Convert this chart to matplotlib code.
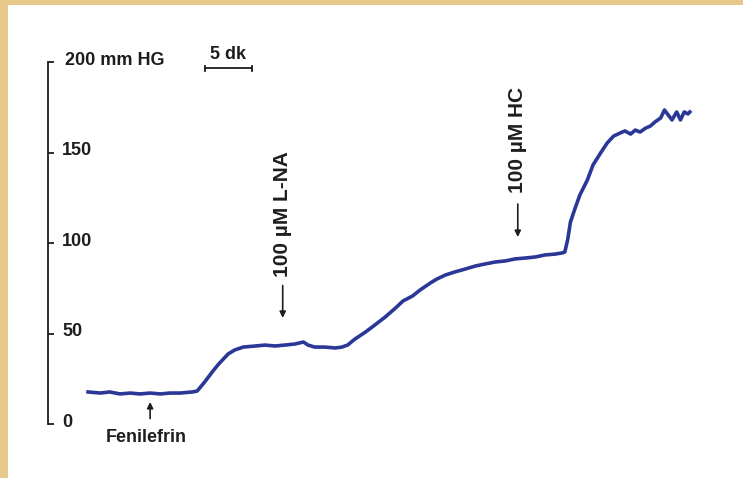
import matplotlib.pyplot as plt
from matplotlib.patches import Rectangle

# trace: time [min] and pressure [mm Hg]
time_min = [0.0, 1.3, 2.3, 3.4, 4.5, 5.5, 6.6, 7.7, 8.7, 9.8, 11.1, 11.6,
            12.4, 13.2, 13.8, 14.3, 14.9, 15.6, 16.5, 17.8, 18.8, 19.9, 20.9,
            22.0, 22.9, 23.4, 24.1, 25.2, 26.3, 27.0, 27.6, 28.4, 29.5, 30.5,
            31.6, 32.7, 33.5, 34.5, 35.3, 36.4, 37.1, 38.0, 39.0, 40.1, 41.2,
            42.2, 43.3, 44.4, 45.4, 46.5, 47.6, 48.6, 49.7, 50.4, 50.7, 51.0,
            51.3, 51.8, 52.3, 53.1, 53.7, 54.5, 55.2, 55.9, 56.6, 57.1, 57.7,
            58.2, 58.7, 59.3, 59.8, 60.3, 60.9, 61.3, 61.7, 62.1, 62.6, 63.0,
            63.4, 63.8, 64.0]
pressure = [17.7, 17.1, 17.7, 16.6, 17.1, 16.6, 17.1, 16.6, 17.1, 17.1, 17.7,
            18.2, 23.2, 28.7, 32.6, 35.4, 38.7, 40.9, 42.5, 43.1, 43.6, 43.1,
            43.6, 44.2, 45.3, 43.6, 42.5, 42.5, 42.0, 42.5, 43.6, 47.0, 50.8,
            54.7, 59.1, 64.1, 68.0, 70.7, 74.0, 77.9, 80.1, 82.3, 84.0, 85.6,
            87.3, 88.4, 89.5, 90.1, 91.2, 91.7, 92.3, 93.4, 93.9, 94.5, 95.0,
            101.7, 111.6, 119.3, 126.5, 134.8, 143.1, 149.7, 155.2, 159.1,
            160.8, 161.9, 160.2, 162.4, 161.3, 163.5, 164.6, 166.9, 169.1,
            173.5, 170.7, 168.0, 172.4, 168.0, 172.4, 171.3, 172.4]

y_ticks = [0, 50, 100, 150, 200]
y_tick_labels = ["0", "50", "100", "150", "200 mm HG"]

trace_color = "#2b3796"
text_color = "#1e1e1e"

W, H = 743, 478
fig = plt.figure(figsize=(W / 100, H / 100), dpi=100)
fig.patch.set_facecolor("#e7c98c")
fig.patches.append(Rectangle((8 / W, 0), 1, (H - 5) / H, transform=fig.transFigure,
                             facecolor="white", edgecolor="none", zorder=-10))

ax = fig.add_axes([48 / W, (H - 424) / H, (735 - 48) / W, (424 - 62) / H])
ax.set_facecolor("none")
ax.set_xlim(-4.26, 68.8)
ax.set_ylim(0, 200)

for s in ["top", "right", "bottom"]:
    ax.spines[s].set_visible(False)
ax.spines["left"].set_linewidth(1.3)
ax.spines["left"].set_color(text_color)
ax.set_xticks([])
ax.set_yticks(y_ticks)
ax.tick_params(axis="y", direction="in", length=4, width=1.3, color=text_color,
               labelleft=False)

font = dict(family="Liberation Sans", weight="bold", color=text_color)
for v, lab in zip(y_ticks, y_tick_labels):
    x = -2.45 if v == 200 else -2.75
    ax.text(x, v + 1, lab, ha="left", va="center", fontsize=13, clip_on=False, **font)

ax.plot(time_min, pressure, color=trace_color, lw=2.6, solid_joinstyle="round")

# 5 min scale bar
ax.plot([12.4, 17.4], [196.5, 196.5], color=text_color, lw=1.3, clip_on=False)
for xb in [12.4, 17.4]:
    ax.plot([xb, xb], [195, 198], color=text_color, lw=1.3, clip_on=False)
ax.text(14.9, 204, "5 dk", ha="center", va="center", fontsize=13, clip_on=False, **font)

arrow = dict(arrowstyle="-|>", color=text_color, lw=1.2, mutation_scale=9,
             shrinkA=0, shrinkB=0)

# Fenilefrin
ax.annotate("", xy=(6.6, 12.2), xytext=(6.6, 3.0), arrowprops=arrow, annotation_clip=False)
ax.text(6.2, -7.5, "Fenilefrin", ha="center", va="center", fontsize=13, clip_on=False, **font)

# L-NA
ax.annotate("", xy=(20.7, 58.6), xytext=(20.7, 76.5), arrowprops=arrow)
ax.text(20.7, 116, "100 µM L-NA", rotation=90, ha="center", va="center",
        fontsize=15, **font)

# HC
ax.annotate("", xy=(45.7, 103.3), xytext=(45.7, 121.5), arrowprops=arrow)
ax.text(45.7, 157, "100 µM HC", rotation=90, ha="center", va="center",
        fontsize=15, **font)

fig.savefig("out.png", dpi=100, facecolor=fig.get_facecolor())
